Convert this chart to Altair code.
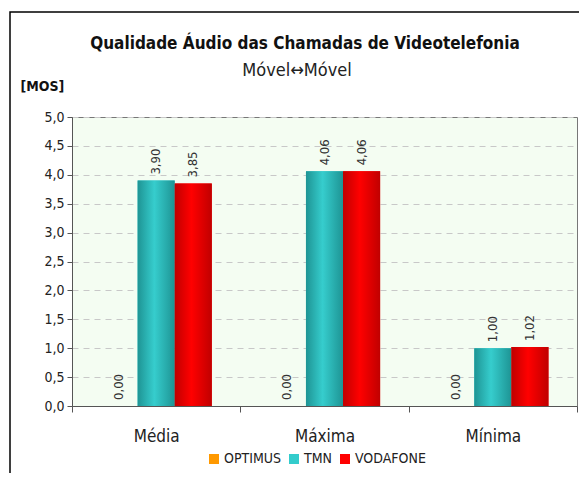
import altair as alt
import pandas as pd

categories = ["Média", "Máxima", "Mínima"]
series = ["OPTIMUS", "TMN", "VODAFONE"]
optimus = [0.00, 0.00, 0.00]
tmn = [3.90, 4.06, 1.00]
vodafone = [3.85, 4.06, 1.02]
colors = ["#FF9900", "#33CCCC", "#FF0000"]
grad_stops = {
    "OPTIMUS": ["#CC6600", "#FFAA33", "#CC6600"],
    "TMN": ["#1E9494", "#36CDCD", "#1E9494"],
    "VODAFONE": ["#C00000", "#FF0000", "#C00000"],
}
title_text = "Qualidade Áudio das Chamadas de Videotelefonia"
subtitle_text = "Móvel↔Móvel"

rows = []
for s, vals in zip(series, [optimus, tmn, vodafone]):
    for c, v in zip(categories, vals):
        rows.append({"cat": c, "series": s, "value": v,
                     "label": f"{v:.2f}".replace(".", ",")})
df = pd.DataFrame(rows)

FONT = "DejaVu Sans Condensed, Liberation Sans, sans-serif"

x_enc = alt.X("cat:N", sort=categories,
              scale=alt.Scale(paddingInner=0, paddingOuter=0),
              axis=alt.Axis(title=None, labelFontSize=17, labelPadding=16,
                            labelColor="#222222", tickBand="extent", tickSize=6,
                            tickColor="#555555", domainColor="#555555",
                            labelAngle=0, grid=False))
xo_enc = alt.XOffset("series:N", sort=series,
                     scale=alt.Scale(domain=series, paddingInner=0, paddingOuter=0.77))
y_enc = alt.Y("value:Q", scale=alt.Scale(domain=[0, 5]),
              axis=alt.Axis(title="[MOS]", titleAngle=0, titleX=-52, titleY=-24,
                            titleAlign="left", titleFontSize=14, titleFontWeight="bold",
                            titleColor="#111111",
                            values=[0, 0.5, 1, 1.5, 2, 2.5, 3, 3.5, 4, 4.5, 5],
                            labelOverlap=False,
                            labelExpr="replace(format(datum.value, '.1f'), '.', ',')",
                            labelFontSize=14, labelColor="#222222", labelPadding=3,
                            tickSize=5, tickColor="#555555", domainColor="#555555",
                            gridColor="#C8C8C8", gridDash=[6, 5]))

base = alt.Chart(df)

flat = base.mark_bar().encode(
    x=x_enc, xOffset=xo_enc, y=y_enc,
    color=alt.Color("series:N", sort=series,
                    scale=alt.Scale(domain=series, range=colors),
                    legend=alt.Legend(title=None, orient="none", direction="horizontal",
                                      legendX=135, legendY=335,
                                      symbolType="square", symbolSize=100,
                                      symbolStrokeWidth=0, labelFontSize=14,
                                      labelColor="#222222", columnPadding=6,
                                      labelOffset=3)),
)

grad_layers = []
for s in series:
    st = grad_stops[s]
    g = alt.LinearGradient(gradient="linear", x1=0, x2=1, y1=0, y2=0,
                           stops=[alt.GradientStop(offset=0, color=st[0]),
                                  alt.GradientStop(offset=0.45, color=st[1]),
                                  alt.GradientStop(offset=1, color=st[2])])
    grad_layers.append(
        base.transform_filter(alt.datum.series == s)
        .mark_bar(color=g)
        .encode(x=x_enc, xOffset=xo_enc, y=y_enc)
    )

labels = base.mark_text(angle=270, align="left", baseline="middle", dx=6,
                        fontSize=13, color="#333333").encode(
    x=x_enc, xOffset=xo_enc, y=y_enc, text="label:N")

title_df = alt.Data(values=[{"t": title_text, "s": subtitle_text}])
title_mark = alt.Chart(title_df).mark_text(
    fontSize=17, fontWeight="bold", color="#111111", baseline="middle", align="center").encode(
    x=alt.value(233), y=alt.value(-73), text="t:N")
subtitle_mark = alt.Chart(title_df).mark_text(
    fontSize=18, color="#222222", baseline="middle", align="center").encode(
    x=alt.value(225), y=alt.value(-46), text="s:N")

frame = alt.Chart(alt.Data(values=[{"a": 1}])).mark_rect(
    filled=False, stroke="#000000", strokeWidth=1.5).encode(
    x=alt.value(-62), x2=alt.value(620), y=alt.value(-105), y2=alt.value(520))

chart = alt.layer(flat, *grad_layers, labels, title_mark, subtitle_mark, frame).properties(
    width=505, height=289,
    padding={"left": 64, "top": 109, "right": 2, "bottom": 67},
    autosize=alt.AutoSizeParams(type="none"),
).configure(font=FONT).configure_view(fill="#F4FDF2", stroke="#777777", strokeWidth=1)

chart.save("out.html", embed_options={"renderer": "svg", "actions": False})
